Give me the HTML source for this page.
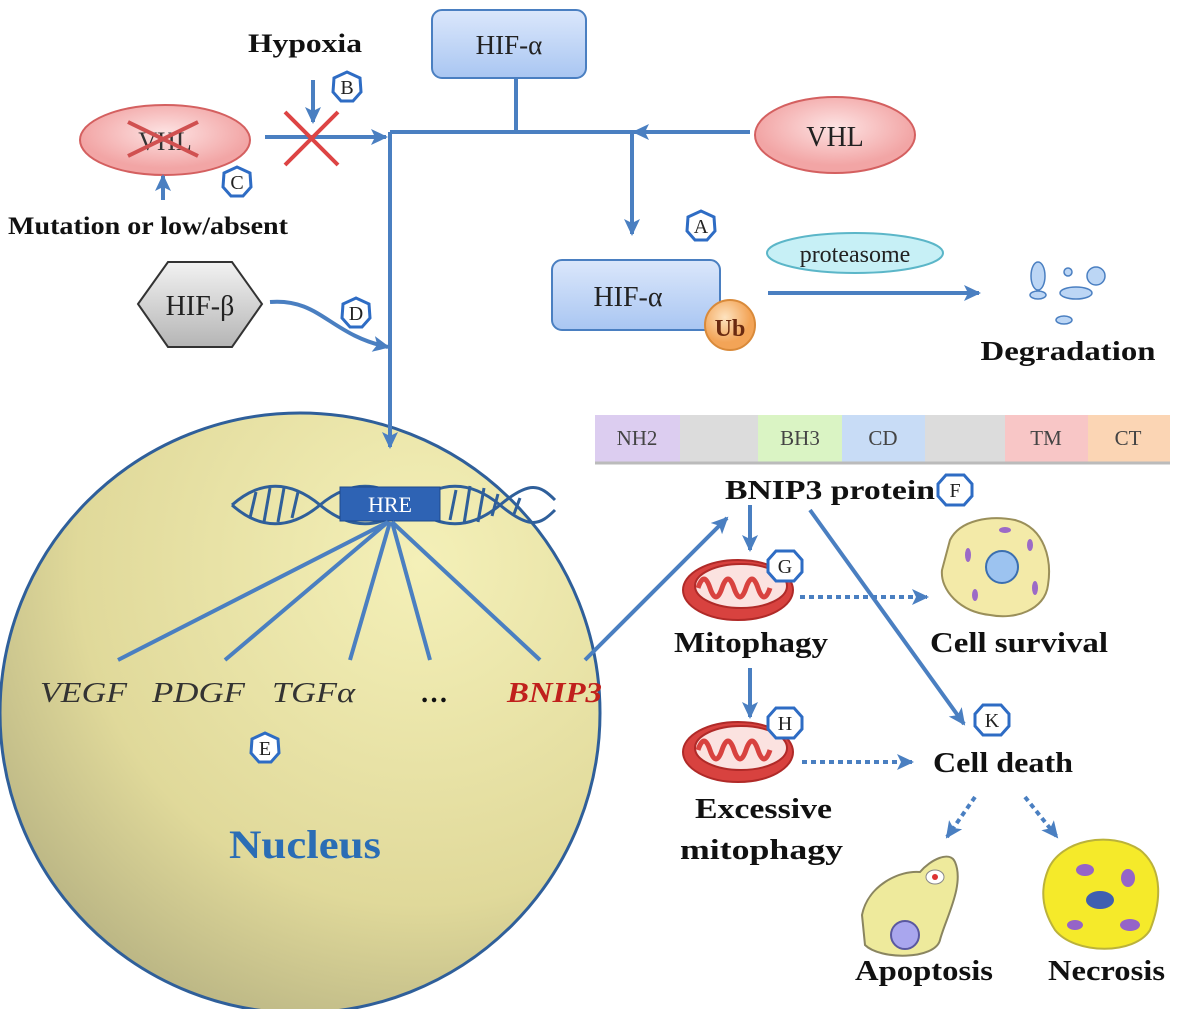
<!DOCTYPE html>
<html><head><meta charset="utf-8"><style>
html,body{margin:0;padding:0;background:#fff;}
svg{display:block;font-family:"Liberation Serif",serif;}
</style></head><body>
<svg width="1181" height="1009" viewBox="0 0 1181 1009" xmlns="http://www.w3.org/2000/svg">
<defs>
<radialGradient id="nuc" cx="0.7" cy="0.25" r="0.95">
<stop offset="0" stop-color="#f4f0b8"/><stop offset="0.6" stop-color="#e0d99a"/><stop offset="1" stop-color="#a9a57a"/></radialGradient>
<linearGradient id="box" x1="0" y1="0" x2="0" y2="1"><stop offset="0" stop-color="#dbe7fb"/><stop offset="1" stop-color="#a9c6f2"/></linearGradient>
<linearGradient id="hex" x1="0" y1="0" x2="0" y2="1"><stop offset="0" stop-color="#f2f2f2"/><stop offset="1" stop-color="#b5b5b5"/></linearGradient>
<radialGradient id="ub" cx="0.4" cy="0.35"><stop offset="0" stop-color="#fde3c0"/><stop offset="1" stop-color="#f3a457"/></radialGradient>
<radialGradient id="vhl" cx="0.5" cy="0.4"><stop offset="0" stop-color="#fde3e3"/><stop offset="1" stop-color="#f2a5a5"/></radialGradient>
<marker id="ah2" markerWidth="20" markerHeight="20" refX="16" refY="10" orient="auto" markerUnits="userSpaceOnUse" viewBox="0 0 20 20"><path d="M1,2 L18,10 L1,18 L5,10 Z" fill="#4a7fc1"/></marker>
<g id="mito">
<ellipse cx="0" cy="0" rx="55" ry="30" fill="#d8423f" stroke="#b02a28" stroke-width="2"/>
<ellipse cx="3" cy="-4" rx="46" ry="22" fill="#fbe2e0" stroke="#b02a28" stroke-width="2"/>
<path d="M-40,-2 q6,-18 12,0 q6,18 12,0 q6,-18 12,0 q6,18 12,0 q6,-18 12,0 q6,18 12,0" fill="none" stroke="#d8423f" stroke-width="5"/>
</g>
</defs>

<circle cx="300" cy="713" r="300" fill="url(#nuc)" stroke="#2f5f9a" stroke-width="3"/>

<rect x="432" y="10" width="154" height="68" rx="10" fill="url(#box)" stroke="#4a7fc1" stroke-width="2"/>
<text x="509" y="54" font-size="27" text-anchor="middle" fill="#222">HIF-α</text>

<ellipse cx="165" cy="140" rx="85" ry="35" fill="url(#vhl)" stroke="#d46060" stroke-width="2"/>
<text x="165" y="150" font-size="26" text-anchor="middle" fill="#333">VHL</text>
<g stroke="#d05050" stroke-width="4"><line x1="128" y1="122" x2="198" y2="156"/><line x1="198" y1="122" x2="128" y2="156"/></g>

<g stroke="#4a7fc1" stroke-width="4" fill="none">
<line x1="516" y1="78" x2="516" y2="132"/>
<line x1="390" y1="132" x2="750" y2="132"/>
<line x1="265" y1="137" x2="386" y2="137" marker-end="url(#ah2)"/>
<line x1="750" y1="132" x2="634" y2="132" marker-end="url(#ah2)"/>
<line x1="390" y1="132" x2="390" y2="447" marker-end="url(#ah2)"/>
<line x1="632" y1="132" x2="632" y2="234" marker-end="url(#ah2)"/>
<line x1="313" y1="80" x2="313" y2="122" marker-end="url(#ah2)"/>
<line x1="163" y1="200" x2="163" y2="176" marker-end="url(#ah2)"/>
<path d="M270,302 C320,298 330,335 388,347" marker-end="url(#ah2)"/>
<line x1="768" y1="293" x2="979" y2="293" marker-end="url(#ah2)"/>
<line x1="585" y1="660" x2="727" y2="518" marker-end="url(#ah2)"/>
<line x1="750" y1="505" x2="750" y2="550" marker-end="url(#ah2)"/>
<line x1="810" y1="510" x2="964" y2="724" marker-end="url(#ah2)"/>
<line x1="750" y1="668" x2="750" y2="717" marker-end="url(#ah2)"/>
</g>
<g stroke="#4a7fc1" stroke-width="4" fill="none" stroke-dasharray="5,4">
<line x1="800" y1="597" x2="927" y2="597" marker-end="url(#ah2)"/>
<line x1="802" y1="762" x2="912" y2="762" marker-end="url(#ah2)"/>
<line x1="975" y1="797" x2="947" y2="837" marker-end="url(#ah2)"/>
<line x1="1025" y1="797" x2="1057" y2="837" marker-end="url(#ah2)"/>
</g>

<g stroke="#d44" stroke-width="4"><line x1="285" y1="112" x2="338" y2="165"/><line x1="338" y1="112" x2="285" y2="165"/></g>

<text x="305" y="52" font-size="26" font-weight="bold" text-anchor="middle" fill="#111" textLength="114" lengthAdjust="spacingAndGlyphs">Hypoxia</text>
<text x="148" y="234" font-size="25" font-weight="bold" text-anchor="middle" fill="#111" textLength="280" lengthAdjust="spacingAndGlyphs">Mutation or low/absent</text>

<ellipse cx="835" cy="135" rx="80" ry="38" fill="url(#vhl)" stroke="#d46060" stroke-width="2"/>
<text x="835" y="146" font-size="28" text-anchor="middle" fill="#222">VHL</text>

<polygon points="138,304 168,262 232,262 262,304 232,347 168,347" fill="url(#hex)" stroke="#333" stroke-width="2"/>
<text x="200" y="315" font-size="28" text-anchor="middle" fill="#222">HIF-β</text>

<rect x="552" y="260" width="168" height="70" rx="10" fill="url(#box)" stroke="#4a7fc1" stroke-width="2"/>
<text x="628" y="306" font-size="28" text-anchor="middle" fill="#222">HIF-α</text>
<circle cx="730" cy="325" r="25" fill="url(#ub)" stroke="#d98a3a" stroke-width="2"/>
<text x="730" y="336" font-size="24" font-weight="bold" text-anchor="middle" fill="#6a2a10">Ub</text>

<ellipse cx="855" cy="253" rx="88" ry="20" fill="#c7f0f6" stroke="#5bb6c8" stroke-width="2"/>
<text x="855" y="262" font-size="24" text-anchor="middle" fill="#222">proteasome</text>

<g fill="#bcd6f5" stroke="#4a7fc1" stroke-width="1.5">
<ellipse cx="1038" cy="276" rx="7" ry="14"/><ellipse cx="1038" cy="295" rx="8" ry="4"/>
<circle cx="1068" cy="272" r="4"/><circle cx="1096" cy="276" r="9"/>
<ellipse cx="1076" cy="293" rx="16" ry="6"/><ellipse cx="1064" cy="320" rx="8" ry="4"/>
</g>
<text x="1068" y="360" font-size="27" font-weight="bold" text-anchor="middle" fill="#111" textLength="175" lengthAdjust="spacingAndGlyphs">Degradation</text>

<g stroke="#2f5f9a" stroke-width="3" fill="none">
<path d="M232,505 C260,480 290,480 320,505 S380,530 410,505 S470,480 500,505 S540,525 555,510"/>
<path d="M232,505 C260,530 290,530 320,505 S380,480 410,505 S470,530 500,505 S540,485 555,500"/>
<line x1="256" y1="492" x2="250" y2="518"/><line x1="270" y1="488" x2="264" y2="522"/><line x1="284" y1="488" x2="278" y2="522"/><line x1="298" y1="492" x2="292" y2="518"/>
<line x1="456" y1="490" x2="450" y2="520"/><line x1="470" y1="486" x2="464" y2="524"/><line x1="484" y1="488" x2="478" y2="522"/><line x1="498" y1="494" x2="492" y2="516"/><line x1="520" y1="498" x2="514" y2="514"/>
</g>
<rect x="340" y="487" width="100" height="34" fill="#2e63b4" stroke="#1d4a8c"/>
<text x="390" y="512" font-size="22" text-anchor="middle" fill="#fff">HRE</text>

<g stroke="#4a7fc1" stroke-width="4">
<line x1="388" y1="522" x2="118" y2="660"/><line x1="388" y1="522" x2="225" y2="660"/>
<line x1="390" y1="522" x2="350" y2="660"/><line x1="392" y1="522" x2="430" y2="660"/><line x1="392" y1="522" x2="540" y2="660"/>
</g>
<g font-size="28" font-style="italic" fill="#333">
<text x="40" y="702" textLength="87" lengthAdjust="spacingAndGlyphs">VEGF</text>
<text x="152" y="702" textLength="93" lengthAdjust="spacingAndGlyphs">PDGF</text>
<text x="272" y="702" textLength="83" lengthAdjust="spacingAndGlyphs">TGFα</text>
<text x="420" y="702" font-style="normal" font-weight="bold" fill="#111">…</text>
<text x="507" y="702" font-weight="bold" fill="#c0201c" textLength="95" lengthAdjust="spacingAndGlyphs">BNIP3</text>
</g>
<text x="305" y="858" font-size="40" font-weight="bold" text-anchor="middle" fill="#2a6db5" textLength="152" lengthAdjust="spacingAndGlyphs">Nucleus</text>

<g font-size="21" text-anchor="middle" fill="#444">
<rect x="595" y="415" width="85" height="47" fill="#dccdf0"/><text x="637" y="445">NH2</text>
<rect x="680" y="415" width="78" height="47" fill="#dcdcdc"/>
<rect x="758" y="415" width="84" height="47" fill="#daf4c4"/><text x="800" y="445">BH3</text>
<rect x="842" y="415" width="83" height="47" fill="#c8dcf6"/><text x="883" y="445">CD</text>
<rect x="925" y="415" width="80" height="47" fill="#dcdcdc"/>
<rect x="1005" y="415" width="83" height="47" fill="#f8c6c6"/><text x="1046" y="445">TM</text>
<rect x="1088" y="415" width="82" height="47" fill="#fbd5b4"/><text x="1128" y="445">CT</text>
</g>
<line x1="595" y1="463" x2="1170" y2="463" stroke="#bbb" stroke-width="3"/>
<text x="725" y="499" font-size="27" font-weight="bold" fill="#111" textLength="210" lengthAdjust="spacingAndGlyphs">BNIP3  protein</text>

<use href="#mito" x="738" y="590"/>
<use href="#mito" x="738" y="752"/>
<g font-size="28" font-weight="bold" fill="#111" lengthAdjust="spacingAndGlyphs">
<text x="674" y="652" textLength="154" lengthAdjust="spacingAndGlyphs">Mitophagy</text>
<text x="695" y="818" textLength="137" lengthAdjust="spacingAndGlyphs">Excessive</text>
<text x="680" y="859" textLength="163" lengthAdjust="spacingAndGlyphs">mitophagy</text>
<text x="930" y="652" textLength="178" lengthAdjust="spacingAndGlyphs">Cell survival</text>
<text x="933" y="772" textLength="140" lengthAdjust="spacingAndGlyphs">Cell death</text>
<text x="855" y="980" textLength="138" lengthAdjust="spacingAndGlyphs">Apoptosis</text>
<text x="1048" y="980" textLength="117" lengthAdjust="spacingAndGlyphs">Necrosis</text>
</g>

<path d="M950,540 C960,520 990,515 1015,520 C1045,528 1052,560 1048,585 C1045,610 1015,620 990,615 C960,612 940,590 942,570 Z" fill="#f3eaa8" stroke="#9a8f5a" stroke-width="2"/>
<circle cx="1002" cy="567" r="16" fill="#9cc3f0" stroke="#3b6fb0" stroke-width="2"/>
<g fill="#9c6ac7"><ellipse cx="968" cy="555" rx="3" ry="7"/><ellipse cx="1030" cy="545" rx="3" ry="6"/><ellipse cx="1035" cy="588" rx="3" ry="7"/><ellipse cx="975" cy="595" rx="3" ry="6"/><ellipse cx="1005" cy="530" rx="6" ry="3"/></g>

<path d="M862,915 C868,885 900,870 920,872 C930,860 950,850 955,862 C965,885 945,920 940,940 C935,960 880,960 865,945 Z" fill="#eeea9c" stroke="#8a8560" stroke-width="2"/>
<circle cx="905" cy="935" r="14" fill="#a9a6ee" stroke="#5a58a0" stroke-width="2"/>
<ellipse cx="935" cy="877" rx="9" ry="7" fill="#fff" stroke="#888"/><circle cx="935" cy="877" r="3" fill="#d33"/>

<path d="M1048,870 C1060,840 1110,830 1140,850 C1165,870 1160,905 1150,930 C1135,955 1075,955 1055,930 C1042,910 1040,890 1048,870 Z" fill="#f5ea2a" stroke="#bbb23a" stroke-width="2"/>
<g fill="#9564c8"><ellipse cx="1085" cy="870" rx="9" ry="6"/><ellipse cx="1128" cy="878" rx="7" ry="9"/><ellipse cx="1075" cy="925" rx="8" ry="5"/><ellipse cx="1130" cy="925" rx="10" ry="6"/></g>
<ellipse cx="1100" cy="900" rx="14" ry="9" fill="#3f5fb0"/>

<g fill="#fff" stroke="#2e6cc4" stroke-width="3" font-size="20" text-anchor="middle">
<g transform="translate(347,87)"><polygon points="-13,-9 0,-15 13,-9 14,5 6,14 -6,14 -14,5"/><text y="7" stroke="none" fill="#222">B</text></g>
<g transform="translate(237,182)"><polygon points="-13,-9 0,-15 13,-9 14,5 6,14 -6,14 -14,5"/><text y="7" stroke="none" fill="#222">C</text></g>
<g transform="translate(701,226)"><polygon points="-13,-9 0,-15 13,-9 14,5 6,14 -6,14 -14,5"/><text y="7" stroke="none" fill="#222">A</text></g>
<g transform="translate(356,313)"><polygon points="-13,-9 0,-15 13,-9 14,5 6,14 -6,14 -14,5"/><text y="7" stroke="none" fill="#222">D</text></g>
<g transform="translate(265,748)"><polygon points="-13,-9 0,-15 13,-9 14,5 6,14 -6,14 -14,5"/><text y="7" stroke="none" fill="#222">E</text></g>
<g transform="translate(955,490)"><polygon points="-17,-6 -9,-15 9,-15 17,-6 17,6 9,15 -9,15 -17,6"/><text y="7" stroke="none" fill="#222">F</text></g>
<g transform="translate(785,566)"><polygon points="-17,-6 -9,-15 9,-15 17,-6 17,6 9,15 -9,15 -17,6"/><text y="7" stroke="none" fill="#222">G</text></g>
<g transform="translate(785,723)"><polygon points="-17,-6 -9,-15 9,-15 17,-6 17,6 9,15 -9,15 -17,6"/><text y="7" stroke="none" fill="#222">H</text></g>
<g transform="translate(992,720)"><polygon points="-17,-6 -9,-15 9,-15 17,-6 17,6 9,15 -9,15 -17,6"/><text y="7" stroke="none" fill="#222">K</text></g>
</g>
</svg>
</body></html>
